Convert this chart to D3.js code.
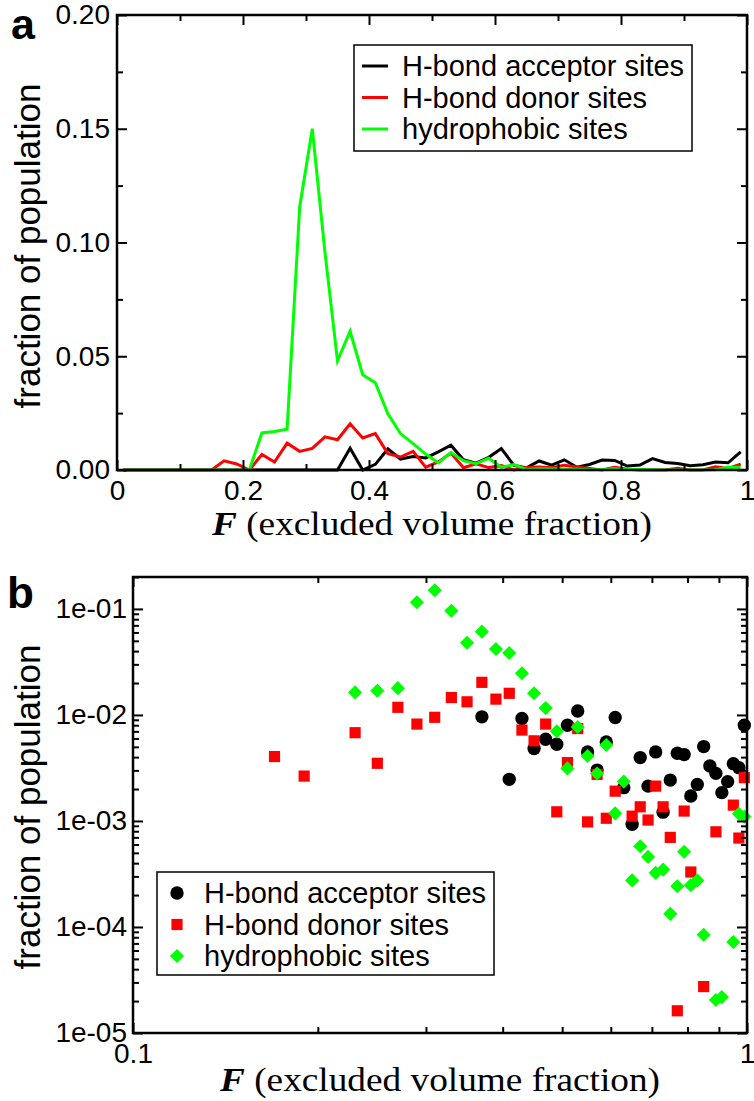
<!DOCTYPE html>
<html><head><meta charset="utf-8">
<script src="https://cdn.jsdelivr.net/npm/d3@7"></script>
<style>body{margin:0;background:#fff}svg{display:block}</style>
</head><body>
<svg id="c" width="754" height="1101"></svg>
<script>
// ---------- data ----------
const binF = [0.01,0.03,0.05,0.07,0.09,0.11,0.13,0.15,0.17,0.19,0.21,0.23,0.25,0.27,0.29,0.31,0.33,0.35,0.37,0.39,0.41,0.43,0.45,0.47,0.49,0.51,0.53,0.55,0.57,0.59,0.61,0.63,0.65,0.67,0.69,0.71,0.73,0.75,0.77,0.79,0.81,0.83,0.85,0.87,0.89,0.91,0.93,0.95,0.97,0.99];
const acceptor = [0,0,0,0,0,0,0,0,0,0,0,0,0,0,0,0,0,0,0.0096,0,0.00247,0.00925,0.00482,0.0059,0.00529,0.0080,0.0109,0.00448,0.00302,0.00556,0.00946,0.00206,0.00093,0.00396,0.00213,0.00448,0.00121,0.00243,0.00435,0.00423,0.00172,0.00221,0.00503,0.0033,0.00281,0.00185,0.00235,0.00347,0.00318,0.0080];
const donor = [0,0,0,0,0,0,0,0,0.00405,0.00265,0,0.0068,0.0035,0.0118,0.0082,0.0095,0.0146,0.0133,0.0203,0.0141,0.0160,0.0072,0.0057,0.0082,0.00122,0.00355,0.00744,0.00098,0.00275,0.00106,0.00191,0,0.00111,0.00136,0.00102,0.00213,0.00136,0.00070,0.0000162,0.00124,0.00033,0,0.0000274,0,0.00079,0,0,0.00141,0.00069,0.00256];
const hydrophobic = [0,0,0,0,0,0,0,0,0,0,0,0.0163,0.0169,0.0179,0.1156,0.150,0.096,0.048,0.061,0.0419,0.0384,0.0247,0.0160,0.0116,0.0070,0.00313,0.0077,0.0041,0.0028,0.0052,0.00118,0.00235,0.000275,0.000578,0.000458,0.000324,0.000348,0.000133,0.000242,0.000512,0.000248,0.000275,0.0000845,0,0.0000205,0.0000218,0,0.000072,0.00117,0.0011];
const seriesNames = ["H-bond acceptor sites","H-bond donor sites","hydrophobic sites"];
const seriesColors = ["#000000","#ff0000","#00ff00"];
const seriesValues = [acceptor, donor, hydrophobic];

const xTicksA = [0,0.2,0.4,0.6,0.8,1];
const xMinorA = [0.1,0.3,0.5,0.7,0.9];
const yTicksA = [0,0.05,0.1,0.15,0.2];
const yMinorA = [0.025,0.075,0.125,0.175];
const xTicksB = [0.1,1];
const xMinorB = [0.2,0.3,0.4,0.5,0.6,0.7,0.8,0.9];
const yTicksB = [1e-5,1e-4,1e-3,1e-2,1e-1];
const yMinorB = [2e-5,3e-5,4e-5,5e-5,6e-5,7e-5,8e-5,9e-5,2e-4,3e-4,4e-4,5e-4,6e-4,7e-4,8e-4,9e-4,2e-3,3e-3,4e-3,5e-3,6e-3,7e-3,8e-3,9e-3,2e-2,3e-2,4e-2,5e-2,6e-2,7e-2,8e-2,9e-2,0.2];

// ---------- setup ----------
const svg = d3.select("#c");
const SANS = "'Liberation Sans', Arial, Helvetica, sans-serif";
const SERIF = "'Liberation Serif', 'Times New Roman', serif";

function frameAxes(g, x, y, xMaj, xMin, yMaj, yMin, xFmt, yFmt, yPad) {
  const [x0, x1] = x.range();
  const [y0, y1] = y.range(); // y0 bottom, y1 top
  const style = s => { s.select(".domain").remove(); s.selectAll("line").attr("stroke","#000").attr("stroke-width",2);
    s.selectAll("text").attr("font-family",SANS).attr("font-size",28).attr("fill","#000"); };
  g.append("g").attr("transform",`translate(0,${y0})`).call(d3.axisBottom(x).tickValues(xMaj).tickFormat(xFmt).tickSize(-10).tickSizeOuter(0).tickPadding(10)).call(style);
  g.append("g").attr("transform",`translate(0,${y0})`).call(d3.axisBottom(x).tickValues(xMin).tickFormat("").tickSize(-6).tickSizeOuter(0)).call(style);
  g.append("g").attr("transform",`translate(0,${y1})`).call(d3.axisTop(x).tickValues(xMaj).tickFormat("").tickSize(-10).tickSizeOuter(0)).call(style);
  g.append("g").attr("transform",`translate(0,${y1})`).call(d3.axisTop(x).tickValues(xMin).tickFormat("").tickSize(-6).tickSizeOuter(0)).call(style);
  g.append("g").attr("transform",`translate(${x0},0)`).call(d3.axisLeft(y).tickValues(yMaj).tickFormat(yFmt).tickSize(-10).tickSizeOuter(0).tickPadding(yPad)).call(style);
  g.append("g").attr("transform",`translate(${x0},0)`).call(d3.axisLeft(y).tickValues(yMin).tickFormat("").tickSize(-6).tickSizeOuter(0)).call(style);
  g.append("g").attr("transform",`translate(${x1},0)`).call(d3.axisRight(y).tickValues(yMaj).tickFormat("").tickSize(-10).tickSizeOuter(0)).call(style);
  g.append("g").attr("transform",`translate(${x1},0)`).call(d3.axisRight(y).tickValues(yMin).tickFormat("").tickSize(-6).tickSizeOuter(0)).call(style);
  g.append("rect").attr("x",x0).attr("y",y1).attr("width",x1-x0).attr("height",y0-y1)
    .attr("fill","none").attr("stroke","#000").attr("stroke-width",2.5);
}

function xTitle(g, cx, baseline) {
  const t = g.append("text").attr("transform",`translate(${cx},${baseline}) scale(1.13,1)`).attr("text-anchor","middle")
    .attr("font-family",SERIF).attr("font-size",33).attr("fill","#000");
  t.append("tspan").attr("font-weight","bold").attr("font-style","italic").text("F");
  t.append("tspan").text(" (excluded volume fraction)");
}
function yTitle(g, bx, cy) {
  g.append("text").attr("transform",`translate(${bx},${cy}) rotate(-90)`).attr("text-anchor","middle")
    .attr("font-family",SANS).attr("font-size",35).attr("fill","#000").text("fraction of population");
}

// ---------- panel a ----------
const xA = d3.scaleLinear().domain([0,1]).range([117,747]);
const yA = d3.scaleLinear().domain([0,0.2]).range([470,15]);
const gA = svg.append("g");
const line = d3.line().x(d=>xA(d[0])).y(d=>yA(d[1]));
seriesValues.forEach((vals,i)=>{
  gA.append("path").datum(binF.map((f,k)=>[f,vals[k]]))
    .attr("d",line).attr("fill","none").attr("stroke",seriesColors[i]).attr("stroke-width",3).attr("stroke-linejoin","miter");
});
frameAxes(gA, xA, yA, xTicksA, xMinorA, yTicksA, yMinorA,
  d => d===0 ? "0" : (d===1 ? "1" : d.toFixed(1)), d3.format(".2f"), 7);
// legend a
const legA = gA.append("g");
legA.append("rect").attr("x",354).attr("y",45).attr("width",338).attr("height",106)
  .attr("fill","#fff").attr("stroke","#000").attr("stroke-width",1.5);
seriesNames.forEach((n,i)=>{
  const cy = 66 + i*31.5;
  legA.append("line").attr("x1",362).attr("x2",388).attr("y1",cy).attr("y2",cy).attr("stroke",seriesColors[i]).attr("stroke-width",3);
  legA.append("text").attr("x",402).attr("y",cy).attr("dy","0.36em").attr("font-family",SANS).attr("font-size",29).attr("fill","#000").text(n);
});
xTitle(gA, 432, 535);
yTitle(gA, 40, 246);
svg.append("text").attr("x",11).attr("y",39).attr("font-family",SANS).attr("font-weight","bold").attr("font-size",43).text("a");

// ---------- panel b ----------
const xB = d3.scaleLog().domain([0.1,1]).range([133,747]);
const yB = d3.scaleLog().domain([1e-5,0.2]).range([1033,577]);
const gB = svg.append("g");
const symCircle = d3.symbol(d3.symbolCircle, 140)();
const symSquare = d3.symbol(d3.symbolSquare, 125)();
const symDiamond = d3.symbol(d3.symbolSquare, 100)();
const symbols = [symCircle, symSquare, symDiamond];
const rot = [0,0,45];
seriesValues.forEach((vals,i)=>{
  const pts = binF.map((f,k)=>[f,vals[k]]).filter(d=>d[1]>0);
  gB.append("g").selectAll("path").data(pts).join("path")
    .attr("d",symbols[i]).attr("fill",seriesColors[i])
    .attr("transform",d=>`translate(${xB(d[0])},${yB(d[1])}) rotate(${rot[i]})`);
});
frameAxes(gB, xB, yB, xTicksB, xMinorB, yTicksB, yMinorB,
  d => d===1 ? "1" : "0.1", d => "1e-0" + Math.round(-Math.log10(d)), 6);
const legB = gB.append("g");
legB.append("rect").attr("x",157).attr("y",872).attr("width",337).attr("height",103)
  .attr("fill","#fff").attr("stroke","#000").attr("stroke-width",1.5);
seriesNames.forEach((n,i)=>{
  const cy = 893 + i*31.5;
  legB.append("path").attr("d",symbols[i]).attr("fill",seriesColors[i]).attr("transform",`translate(177,${cy}) rotate(${rot[i]})`);
  legB.append("text").attr("x",204).attr("y",cy).attr("dy","0.36em").attr("font-family",SANS).attr("font-size",29).attr("fill","#000").text(n);
});
xTitle(gB, 440, 1091);
yTitle(gB, 40, 807);
svg.append("text").attr("x",7).attr("y",608).attr("font-family",SANS).attr("font-weight","bold").attr("font-size",44).text("b");
</script>
</body></html>
